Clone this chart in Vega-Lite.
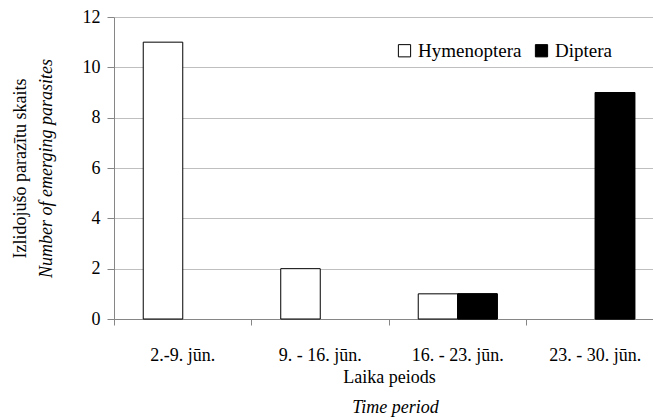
{
  "$schema": "https://vega.github.io/schema/vega-lite/v6.json",
  "width": 539,
  "height": 302,
  "autosize": {"type": "none"},
  "padding": {"left": 114, "top": 17, "right": 0, "bottom": 101},
  "background": "white",
  "config": {
    "font": "Liberation Serif, Times New Roman, serif",
    "view": {"stroke": null},
    "axis": {"labelFont": "Liberation Serif, Times New Roman, serif", "titleFont": "Liberation Serif, Times New Roman, serif", "labelColor": "black", "titleColor": "black", "labelFontSize": 18, "titleFontSize": 18, "titleFontWeight": "normal", "domainColor": "#868686", "tickColor": "#868686"}
  },
  "data": {
    "values": [
      {"period": "2.-9. jūn.", "order": "Hymenoptera", "count": 11},
      {"period": "2.-9. jūn.", "order": "Diptera", "count": 0},
      {"period": "9. - 16. jūn.", "order": "Hymenoptera", "count": 2},
      {"period": "9. - 16. jūn.", "order": "Diptera", "count": 0},
      {"period": "16. - 23. jūn.", "order": "Hymenoptera", "count": 1},
      {"period": "16. - 23. jūn.", "order": "Diptera", "count": 1},
      {"period": "23. - 30. jūn.", "order": "Hymenoptera", "count": 0},
      {"period": "23. - 30. jūn.", "order": "Diptera", "count": 9}
    ]
  },
  "title": {"text": "Time period", "orient": "bottom", "fontStyle": "italic", "fontWeight": "normal", "fontSize": 18, "font": "Liberation Serif, Times New Roman, serif", "color": "black", "offset": 13, "dx": 12},
  "layer": [
    {
      "transform": [{"filter": "datum.count > 0"}],
      "mark": {"type": "bar", "stroke": "black", "strokeWidth": 1},
      "encoding": {
        "x": {"field": "period", "type": "nominal", "sort": ["2.-9. jūn.", "9. - 16. jūn.", "16. - 23. jūn.", "23. - 30. jūn."],
          "scale": {"range": [0, 550], "paddingInner": 0, "paddingOuter": 0},
          "axis": {"orient": "bottom", "title": "Laika peiods", "labelAngle": 0, "ticks": false, "grid": false, "labelPadding": 27, "titlePadding": 4}},
        "xOffset": {"field": "order", "type": "nominal", "sort": ["Hymenoptera", "Diptera"], "scale": {"domain": ["Hymenoptera", "Diptera"], "paddingInner": 0, "paddingOuter": 0.74}},
        "y": {"field": "count", "type": "quantitative", "scale": {"domain": [0, 12], "nice": false},
          "axis": {"orient": "left", "values": [0, 2, 4, 6, 8, 10, 12], "title": "Number of emerging parasites", "titleFontStyle": "italic", "grid": true, "gridColor": "#bfbfbf", "tickSize": 7, "labelPadding": 7, "titlePadding": 27}},
        "color": {"field": "order", "type": "nominal", "scale": {"domain": ["Hymenoptera", "Diptera"], "range": ["white", "black"]},
          "legend": {"title": null, "orient": "none", "direction": "horizontal", "legendX": 281, "legendY": 24, "symbolType": "square", "symbolSize": 150, "symbolStrokeColor": "black", "symbolStrokeWidth": 1, "labelFontSize": 19, "labelFont": "Liberation Serif, Times New Roman, serif", "labelColor": "black", "columnPadding": 10, "labelOffset": 4}}
      }
    },
    {
      "transform": [{"filter": "datum.count > 0 && datum.order == 'Diptera'"}],
      "mark": {"type": "bar", "stroke": "black", "strokeWidth": 1},
      "encoding": {
        "x": {"field": "period", "type": "nominal", "sort": ["2.-9. jūn.", "9. - 16. jūn.", "16. - 23. jūn.", "23. - 30. jūn."],
          "axis": {"orient": "bottom", "title": null, "labels": false, "domain": false, "grid": false, "ticks": true, "tickSize": 6, "bandPosition": 0}},
        "xOffset": {"field": "order", "type": "nominal", "sort": ["Hymenoptera", "Diptera"]},
        "y": {"field": "count", "type": "quantitative",
          "axis": {"orient": "left", "title": "Izlidojušo parazītu skaits", "labels": false, "ticks": false, "domain": false, "grid": false, "titlePadding": 85}},
        "color": {"field": "order", "type": "nominal"}
      }
    }
  ],
  "resolve": {"axis": {"x": "independent", "y": "independent"}}
}
